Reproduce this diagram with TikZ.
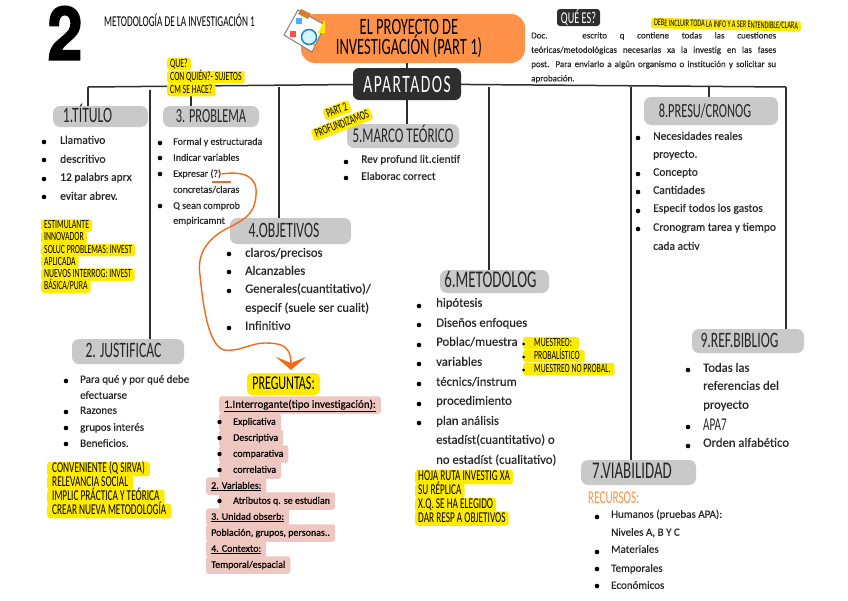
\documentclass[tikz,border=0pt]{standalone}
\usepackage{fontspec}
\usetikzlibrary{arrows.meta}
\setmainfont[FakeBold=0.4]{Carlito}
\newfontfamily\headfont[FakeStretch=0.62]{Carlito}
\newfontfamily\numfont[FakeStretch=0.85,FakeBold=2]{TeX Gyre Heros}
\definecolor{graybox}{HTML}{C9C9C9}
\definecolor{hlyellow}{HTML}{FFEB00}
\definecolor{naranja}{HTML}{FF9248}
\definecolor{naranjafuerte}{HTML}{F26A1B}
\definecolor{rosa}{HTML}{EEC7C0}
\definecolor{oscuro}{HTML}{2E2E2E}
\tikzset{
  linea/.style={line width=1.5pt, draw=oscuro},
  secc/.style={fill=graybox, rounded corners=7pt, inner sep=0pt, text=black!85, text height=14.5pt, text depth=2.5pt, font=\headfont\fontsize{22}{22}\selectfont},
  item/.style={anchor=west, inner sep=0pt, text=black!85, text height=8pt, text depth=2.5pt, font=\fontsize{11.5}{13}\selectfont},
  itemS/.style={item, font=\fontsize{10}{12}\selectfont},
  itemL/.style={item, font=\fontsize{12.7}{14}\selectfont},
  hl/.style={anchor=west, fill=hlyellow, rounded corners=2.5pt, inner xsep=3pt, inner ysep=1pt, text height=8.5pt, text depth=2pt, font=\headfont\fontsize{12.5}{12.5}\selectfont},
  hlG/.style={hl, inner ysep=1pt, text height=10pt, text depth=2.5pt, font=\headfont\fontsize{15}{15}\selectfont},
  rosabox/.style={anchor=west, fill=rosa, rounded corners=2.5pt, inner xsep=5pt, inner ysep=0pt, minimum height=17.5pt, text height=8pt, text depth=2.5pt, font=\fontsize{10}{12}\selectfont},
}
\begin{document}
\begin{tikzpicture}[x=1pt, y=-1pt]
  \useasboundingbox (0,0) rectangle (848,600);

  % Encabezado
  \node[inner sep=0pt, font=\numfont\bfseries\fontsize{74}{74}\selectfont] (numero) at (65,33) {2};
  \node[anchor=west, inner sep=0pt, font=\headfont\fontsize{15}{15}\selectfont] (asignatura) at (104,20) {METODOLOGÍA DE LA INVESTIGACIÓN 1};
  \node[fill=naranja, rounded corners=14pt, minimum width=224pt, minimum height=49pt, inner sep=0pt, align=center, font=\headfont\fontsize{23.5}{19}\selectfont] (proyecto) at (413,38.5) {EL PROYECTO DE\hspace*{8pt}\\INVESTIGACIÓN (PART 1)\hspace*{8pt}};

  % Icono de la lista
  \draw[gray, fill=white, line width=1pt] (284,35) -- (298,10) -- (325,25) -- (312,52) -- cycle;
  \fill[brown!70!orange] (298,14) -- (301,9) -- (311,14) -- (308,19) -- cycle;
  \fill[blue!45!cyan!70] (296,18) rectangle (302,24);
  \fill[red!70] (290,31) rectangle (296,37);
  \fill[yellow!90!orange] (318,33) -- (325,19) -- (325,33) -- cycle;
  \draw[naranja!70!brown, line width=2pt] (314,44) -- (319,53);
  \draw[cyan!70!blue, fill=cyan!15, line width=1.5pt] (309,37) circle (7.5pt);

  % Apartados y titulos de seccion
  \node[fill=oscuro, text=white, rounded corners=6pt, minimum width=108pt, minimum height=32pt, inner sep=0pt, font=\headfont\addfontfeature{LetterSpace=6}\fontsize{25}{25}\selectfont] (apartados) at (407,84) {APARTADOS};
  \node[secc, minimum width=95pt, minimum height=21pt] (titulo) at (100.5,116.5) {1.TÍTULO\hspace*{26pt}};
  \node[secc, minimum width=96pt, minimum height=21pt, font=\headfont\fontsize{20}{20}\selectfont] (problema) at (211,116.5) {3. PROBLEMA};
  \node[secc, minimum width=112pt, minimum height=24pt, font=\headfont\fontsize{21}{21}\selectfont] (marco) at (403,136) {5.MARCO TEÓRICO};
  \node[secc, minimum width=121pt, minimum height=26pt] (objetivos) at (290.5,231) {4.OBJETIVOS\hspace*{13pt}};
  \node[secc, minimum width=134pt, minimum height=28pt, font=\headfont\fontsize{20}{20}\selectfont] (presu) at (711,111) {8.PRESU/CRONOG\hspace*{12pt}};
  \node[secc, minimum width=109pt, minimum height=23pt, font=\headfont\fontsize{24}{24}\selectfont] (metodolog) at (494.5,281.5) {6.METODOLOG\hspace*{8pt}};
  \node[secc, minimum width=112pt, minimum height=24pt] (refbib) at (748,341) {9.REF.BIBLIOG\hspace*{17pt}};
  \node[secc, minimum width=115pt, minimum height=25pt, font=\headfont\fontsize{24}{24}\selectfont] (viabilidad) at (638.5,472.5) {7.VIABILIDAD\hspace*{13pt}};
  \node[secc, minimum width=112pt, minimum height=25pt] (justificac) at (128,351.5) {2. JUSTIFICAC\hspace*{9pt}};

  % Conectores
  \coordinate (railI) at (88,87);
  \coordinate (railD) at (786,87);
  \coordinate (bajJust) at (150,90);
  \coordinate (bajProb) at (191,87);
  \coordinate (bajObj) at (279,87);
  \coordinate (bajMet) at (489,87);
  \coordinate (bajViab) at (631,87);
  \coordinate (bajPresu) at (709,87);
  \draw[linea] (railI) -- (apartados) -- (railD);
  \draw[linea] (railI) -- (titulo.north -| railI);
  \draw[linea] (bajJust) -- (justificac.north -| bajJust);
  \draw[linea] (bajProb) -- (problema.north -| bajProb);
  \draw[linea] (bajObj) -- (objetivos.north -| bajObj);
  \draw[linea] (bajMet) -- (metodolog.north -| bajMet);
  \draw[linea] (bajViab) -- (viabilidad.north -| bajViab);
  \draw[linea] (bajPresu) -- (presu.north -| bajPresu);
  \draw[linea] (railD) -- (refbib.north -| railD);
  \draw[linea] (proyecto.south -| apartados) -- (apartados);
  \draw[linea] (apartados) -- (marco.north -| apartados);

  % Que es
  \node[fill=oscuro, text=white, rounded corners=3pt, minimum width=43pt, minimum height=17pt, inner sep=0pt, font=\headfont\fontsize{16.5}{16.5}\selectfont] (quees) at (578.5,17.5) {QUÉ ES?};
  \node[hl, rotate=-1.3, text height=7pt, text depth=1.5pt, font=\headfont\fontsize{10}{10}\selectfont] (debe) at (651,23) {DEBE INCLUIR TODA LA INFO Y A SER ENTENDIBLE/CLARA};
  \node[anchor=north west, inner sep=0pt, text width=245pt, align=justify, text=black!85, font=\fontsize{9}{14.3}\selectfont] (definicion) at (531,32) {Doc. escrito q contiene todas las cuestiones\linebreak teóricas/metodológicas necesarias xa la investig en las fases\linebreak post. Para enviarlo a algún organismo o institución y solicitar su\linebreak aprobación.};

  % Notas amarillas de arriba
  \node[hl] (que1) at (167,64) {QUE?};
  \node[hl] (que2) at (167,77) {CON QUIÉN?- SUJETOS};
  \node[hl] (que3) at (167,90) {CM SE HACE?};
  \node[hl, rotate=21, anchor=center] (part1) at (337,110.5) {PART 2};
  \node[hl, rotate=21, anchor=center] (part2) at (342,124.5) {PROFUNDIZAMOS};

  % 1.Titulo
  \node[item] (tit1) at (60,141) {Llamativo};
  \node[item] (tit2) at (60,160) {descritivo};
  \node[item] (tit3) at (60,178) {12 palabrs aprx};
  \node[item] (tit4) at (60,197) {evitar abrev.};
  \foreach \y in {142,160,179,197} \fill (44,\y) circle (2.3pt);
  \node[hl] (est1) at (41,225.5) {ESTIMULANTE};
  \node[hl] (est2) at (41,237.5) {INNOVADOR};
  \node[hl] (est3) at (41,250) {SOLUC PROBLEMAS: INVEST};
  \node[hl] (est4) at (41,262) {APLICADA};
  \node[hl] (est5) at (41,274.5) {NUEVOS INTERROG: INVEST};
  \node[hl] (est6) at (41,286.5) {BÁSICA/PURA};

  % 3.Problema
  \node[itemS] (pro1) at (173,142) {Formal y estructurada};
  \node[itemS] (pro2) at (173,158) {Indicar variables};
  \node[itemS] (pro3) at (173,174) {Expresar (?)};
  \node[itemS] (pro4) at (173,190) {concretas/claras};
  \node[itemS] (pro5) at (173,206) {Q sean comprob};
  \node[itemS] (pro6) at (173,221) {empiricamnt};
  \foreach \y in {143,158,174,206} \fill (160,\y) circle (2.3pt);

  % 5.Marco
  \node[item, font=\fontsize{11.3}{13}\selectfont] (mar1) at (361,160) {Rev profund lit.cientif};
  \node[item, font=\fontsize{11.3}{13}\selectfont] (mar2) at (361,177) {Elaborac correct};
  \foreach \y in {162,178} \fill (346,\y) circle (2.3pt);

  % 4.Objetivos
  \node[itemL] (obj1) at (245,254) {claros/precisos};
  \node[itemL] (obj2) at (245,272) {Alcanzables};
  \node[itemL] (obj3) at (245,290) {Generales(cuantitativo)/};
  \node[itemL] (obj4) at (245,309) {especif (suele ser cualit)};
  \node[itemL] (obj5) at (245,327) {Infinitivo};
  \foreach \y in {254,272,291,328} \fill (229,\y) circle (2.3pt);

  % 8.Presupuesto
  \node[item] (pre1) at (653,137) {Necesidades reales};
  \node[item] (pre2) at (653,155) {proyecto.};
  \node[item] (pre3) at (653,173) {Concepto};
  \node[item] (pre4) at (653,191) {Cantidades};
  \node[item] (pre5) at (653,209) {Especif todos los gastos};
  \node[item] (pre6) at (653,228) {Cronogram tarea y tiempo};
  \node[item] (pre7) at (653,247) {cada activ};
  \foreach \y in {138,174,192,211,229} \fill (638,\y) circle (2.3pt);

  % 6.Metodologia
  \node[itemL] (met1) at (436,304) {hipótesis};
  \node[itemL] (met2) at (436,324) {Diseños enfoques};
  \node[itemL] (met3) at (436,343) {Poblac/muestra};
  \node[itemL] (met4) at (436,363) {variables};
  \node[itemL] (met5) at (436,383) {técnics/instrum};
  \node[itemL] (met6) at (436,402) {procedimiento};
  \node[itemL] (met7) at (436,422) {plan análisis};
  \node[itemL] (met8) at (436,441) {estadíst(cuantitativo) o};
  \node[itemL] (met9) at (436,461) {no estadíst (cualitativo)};
  \foreach \y in {306,325,345,364,384,404,423} \fill (419,\y) circle (2.3pt);
  \node[hl, inner xsep=0pt] (mue1) at (523,343) {\hspace*{11pt}MUESTREO:\hspace*{7pt}};
  \node[hl, inner xsep=0pt] (mue2) at (523,356) {\hspace*{11pt}PROBALÍSTICO\hspace*{5pt}};
  \node[hl, inner xsep=0pt] (mue3) at (523,369) {\hspace*{11pt}MUESTREO NO PROBAL.\hspace*{4pt}};
  \foreach \y in {344,357,370} \fill (523.5,\y) circle (1.5pt);
  \node[hlG] (hoja1) at (415,477) {HOJA RUTA INVESTIG XA};
  \node[hlG] (hoja2) at (415,491) {SU RÉPLICA};
  \node[hlG] (hoja3) at (415,505) {X.Q. SE HA ELEGIDO};
  \node[hlG] (hoja4) at (415,518.5) {DAR RESP A OBJETIVOS};

  % 9.Referencias
  \node[itemL] (ref1) at (703,369) {Todas las};
  \node[itemL] (ref2) at (703,387) {referencias del};
  \node[itemL] (ref3) at (703,406) {proyecto};
  \node[item, text height=11pt, text depth=0pt, font=\headfont\fontsize{18}{18}\selectfont] (ref4) at (703,425) {APA7};
  \node[itemL] (ref5) at (703,444) {Orden alfabético};
  \foreach \y in {370,427,446} \fill (688,\y) circle (2.3pt);

  % 7.Viabilidad
  \node[item, text=naranja, text height=11pt, text depth=1pt, font=\headfont\fontsize{18}{18}\selectfont] (recursos) at (588,498) {RECURSOS:};
  \node[item, font=\fontsize{11}{13}\selectfont] (via1) at (611,515) {Humanos (pruebas APA):};
  \node[item, font=\fontsize{11}{13}\selectfont] (via2) at (611,533) {Niveles A, B Y C};
  \node[item, font=\fontsize{11}{13}\selectfont] (via3) at (611,550) {Materiales};
  \node[item, font=\fontsize{11}{13}\selectfont] (via4) at (611,569) {Temporales};
  \node[item, font=\fontsize{11}{13}\selectfont] (via5) at (611,586) {Económicos};
  \foreach \y in {517,552,569,586} \fill (597,\y) circle (2.3pt);

  % 2.Justificacion
  \node[item, font=\fontsize{11}{13}\selectfont] (jus1) at (80,380) {Para qué y por qué debe};
  \node[item, font=\fontsize{11}{13}\selectfont] (jus2) at (80,396) {efectuarse};
  \node[item, font=\fontsize{11}{13}\selectfont] (jus3) at (80,411) {Razones};
  \node[item, font=\fontsize{11}{13}\selectfont] (jus4) at (80,428) {grupos interés};
  \node[item, font=\fontsize{11}{13}\selectfont] (jus5) at (80,444) {Beneficios.};
  \foreach \y in {381,412,428,444} \fill (66,\y) circle (2.3pt);
  \node[hlG, inner xsep=5pt] (con1) at (47,469) {CONVENIENTE (Q SIRVA)};
  \node[hlG, inner xsep=5pt] (con2) at (47,483) {RELEVANCIA SOCIAL};
  \node[hlG, inner xsep=5pt] (con3) at (47,497) {IMPLIC PRÁCTICA Y TEÓRICA};
  \node[hlG, inner xsep=5pt] (con4) at (47,511) {CREAR NUEVA METODOLOGÍA};

  % Preguntas
  \node[hl, anchor=center, rounded corners=5pt, minimum width=73pt, minimum height=22pt, text height=13pt, text depth=2pt, font=\headfont\fontsize{19.5}{19.5}\selectfont] (preguntas) at (283.5,384) {PREGUNTAS:};
  \node[rosabox, font=\fontsize{11}{12}\selectfont] (pre1a) at (219,405) {\underline{1.Interrogante(tipo investigación):}};
  \node[rosabox] (pre1b) at (219,422) {\hspace*{9pt}Explicativa};
  \node[rosabox] (pre1c) at (219,438) {\hspace*{9pt}Descriptiva};
  \node[rosabox] (pre1d) at (219,454) {\hspace*{9pt}comparativa};
  \node[rosabox] (pre1e) at (219,470) {\hspace*{9pt}correlativa};
  \node[rosabox] (pre2a) at (206,486) {\underline{2. Variables:}};
  \node[rosabox] (pre2b) at (219,501) {\hspace*{9pt}Atributos q. se estudian};
  \node[rosabox] (pre3a) at (206,517) {\underline{3. Unidad obserb:}};
  \node[rosabox] (pre3b) at (206,533) {Población, grupos, personas..};
  \node[rosabox] (pre4a) at (206,549) {\underline{4. Contexto:}};
  \node[rosabox] (pre4b) at (206,565) {Temporal/espacial};
  \foreach \y in {422,438,454,470,501} \fill (219.5,\y) circle (2.2pt);

  % Flecha naranja
  \draw[naranjafuerte, line width=1.4pt] (212,182) -- (231,182);
  \draw[naranjafuerte, line width=1.4pt, -{Stealth[length=13pt, width=30pt, inset=6pt]}] (pro3.east) .. controls (242,171) and (258,175) .. (256,195) .. controls (255,212) and (247,218) .. (232,226) .. controls (212,235) and (196,250) .. (200,275) .. controls (203,305) and (208,345) .. (224,350) .. controls (240,352) and (250,343) .. (265,343) .. controls (280,343) and (291,345) .. (291,370);
\end{tikzpicture}
\end{document}
